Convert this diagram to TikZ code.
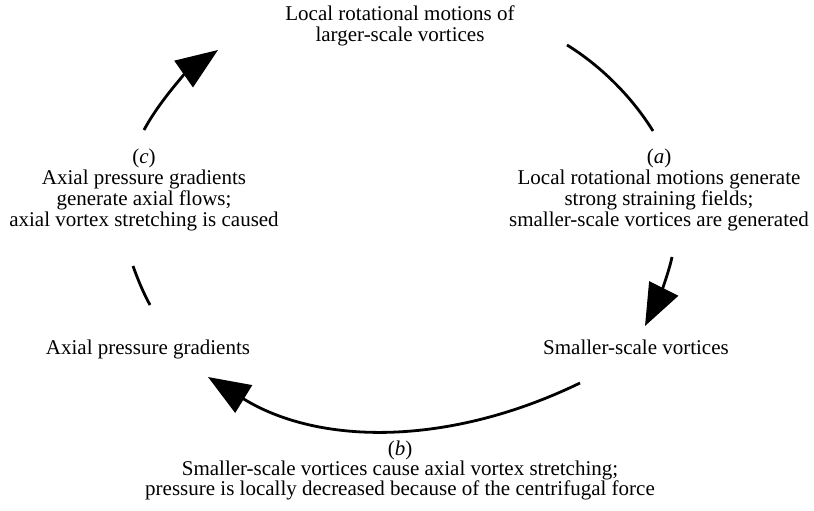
\documentclass[tikz,border=0pt]{standalone}
\usepackage{fontspec}
\setmainfont{Liberation Serif}
\usetikzlibrary{arrows.meta}
\begin{document}
\begin{tikzpicture}[x=1bp,y=-1bp,
  lbl/.style={align=center, font=\fontsize{21bp}{21bp}\selectfont, inner sep=0pt},
  arcline/.style={line width=2.8bp},
  arcarrow/.style={arcline, -{Triangle[length=42bp,width=32bp]}}]
\useasboundingbox (0,0) rectangle (814,511);
% texts
\node[lbl] (top) at (400,26) {Local rotational motions of\\larger-scale vortices};
\node[lbl] (a) at (659,190) {(\textit{a})\\Local rotational motions generate\\strong straining fields;\\smaller-scale vortices are generated};
\node[lbl] (c) at (144,190) {(\textit{c})\\Axial pressure gradients\\generate axial flows;\\axial vortex stretching is caused};
\node[lbl, anchor=base] (sv) at (636,354) {Smaller-scale vortices};
\node[lbl, anchor=base] (ap) at (148,354) {Axial pressure gradients};
\node[lbl, font=\fontsize{21bp}{20bp}\selectfont] (b) at (400,470) {(\textit{b})\\Smaller-scale vortices cause axial vortex stretching;\\pressure is locally decreased because of the centrifugal force};
% arc end points
\coordinate (t1) at (567,45);
\coordinate (t2) at (653,131);
\coordinate (r1) at (672,257);
\coordinate (r2) at (645,326);
\coordinate (b1) at (580,383);
\coordinate (b2) at (208,377);
\coordinate (l1) at (133,266);
\coordinate (l2) at (150,305);
\coordinate (u1) at (144,130);
\coordinate (u2) at (218,50);
% arcs
\draw[arcline] (t1) .. controls (601,66) and (632,97) .. (t2);
\draw[arcarrow] (r1) .. controls (668,276) and (657,302) .. (r2);
\draw[arcarrow] (b1) .. controls (450,446) and (320,446) .. (b2);
\draw[arcline] (l1) .. controls (138,280) and (143,292) .. (l2);
\draw[arcarrow] (u1) .. controls (160,100) and (188,71) .. (u2);
\end{tikzpicture}
\end{document}
